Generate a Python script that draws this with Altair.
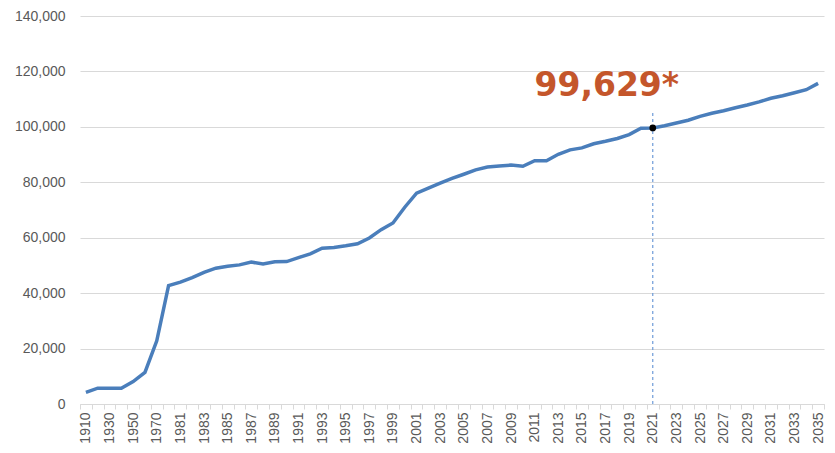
import altair as alt
import pandas as pd

categories = ["1910", "1920", "1930", "1940", "1950", "1960", "1970"] + [str(y) for y in range(1980, 2036)]
values = [4200, 5700, 5700, 5700, 8100, 11400, 22800,
          42700, 44000, 45600, 47500, 49000, 49700, 50200, 51200, 50500, 51300,
          51400, 52800, 54200, 56200, 56500, 57100, 57800, 59900, 62900, 65300,
          71000, 76100, 77900, 79700, 81400, 82900, 84500, 85500, 85900, 86200,
          85800, 87800, 87800, 90100, 91700, 92400, 93900, 94800, 95800, 97200,
          99500, 99629, 100400, 101400, 102400, 103800, 104900, 105800, 106900, 107900,
          109000, 110300, 111200, 112300, 113400, 115700]
y_ticks = [0, 20000, 40000, 60000, 80000, 100000, 120000, 140000]
marker_year = ["2021"]
marker_value = [99629]
marker_label = ["99,629*"]
rule_top = [106000]

shown = categories[::2]

df = pd.DataFrame({"year": categories, "value": values})
mk = pd.DataFrame({"year": marker_year, "value": marker_value, "label": marker_label, "top": rule_top, "zero": [0]})

label_expr = "indexof([" + ",".join("'" + s + "'" for s in shown) + "], datum.value) >= 0 ? datum.label : ''"

xenc = alt.X("year:O", sort=categories, bandPosition=0.5,
             scale=alt.Scale(type="band", domain=categories, paddingInner=0, paddingOuter=0),
             axis=alt.Axis(title=None, labelAngle=-90, labelExpr=label_expr, labelOverlap=False,
                           tickBand="extent", ticks=True, tickSize=5, tickColor="#D9D9D9",
                           domainColor="#D9D9D9", grid=False, labelColor="#595959",
                           labelFontSize=14, labelFont="Liberation Sans", labelPadding=3))

yscale = alt.Scale(domain=[0, 140000], nice=False)

line = alt.Chart(df).mark_line(color="#4A7EBB", strokeWidth=3.5).encode(
    x=xenc,
    y=alt.Y("value:Q", scale=yscale,
            axis=alt.Axis(title=None, values=y_ticks, format=",d", ticks=False, domain=False,
                          gridColor="#D9D9D9", labelColor="#595959", labelFontSize=14,
                          labelFont="Liberation Sans", labelPadding=15)),
)

rule = alt.Chart(mk).mark_rule(color="#6E9BD8", strokeDash=[3, 3], strokeWidth=1.2).encode(
    x=alt.X("year:O", sort=categories, bandPosition=0.5),
    y=alt.Y("zero:Q", scale=yscale),
    y2="top:Q",
)

dot = alt.Chart(mk).mark_circle(color="black", size=45, opacity=1).encode(
    x=alt.X("year:O", sort=categories, bandPosition=0.5),
    y=alt.Y("value:Q", scale=yscale),
)

text = alt.Chart(mk).mark_text(color="#C4562B", font="DejaVu Sans", fontWeight="bold",
                               fontSize=33, align="center", baseline="alphabetic",
                               dx=-46, dy=-32).encode(
    x=alt.X("year:O", sort=categories, bandPosition=0.5),
    y=alt.Y("value:Q", scale=yscale),
    text="label:N",
)

chart = alt.layer(rule, line, dot, text).properties(
    width=744, height=388,
    autosize=alt.AutoSizeParams(type="none"),
    padding={"left": 72, "top": 8, "right": 3, "bottom": 41},
).configure_view(stroke=None)

chart.save("out.html", embed_options={"renderer": "svg", "actions": False})
